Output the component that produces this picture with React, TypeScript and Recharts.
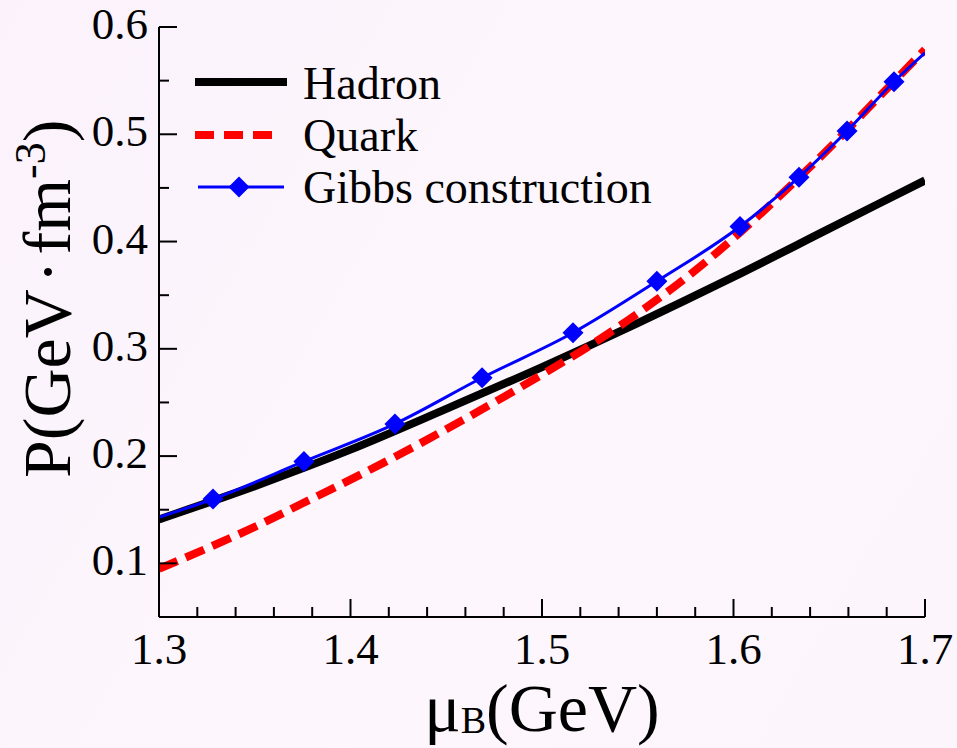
import React from 'react';
import { ComposedChart, Line, Scatter, XAxis, YAxis, Legend, Label } from 'recharts';

const xMajorTicks = [1.3, 1.4, 1.5, 1.6, 1.7];
const xMinorTicks = [1.32, 1.34, 1.36, 1.38, 1.42, 1.44, 1.46, 1.48, 1.52, 1.54, 1.56, 1.58, 1.62, 1.64, 1.66, 1.68];
const yMajorTicks = [0.1, 0.2, 0.3, 0.4, 0.5, 0.6];
const yMinorTicks = [0.15, 0.25, 0.35, 0.45, 0.55];

const hadronMu = [1.3, 1.35, 1.4, 1.45, 1.5, 1.55, 1.6, 1.65, 1.7];
const hadronP = [0.141, 0.172, 0.206, 0.244, 0.283, 0.324, 0.367, 0.412, 0.457];

const quarkMu = [1.3, 1.325, 1.35, 1.375, 1.4, 1.425, 1.45, 1.475, 1.5, 1.525, 1.55, 1.575, 1.6, 1.625, 1.65, 1.675, 1.7];
const quarkP = [0.095, 0.114, 0.134, 0.156, 0.178, 0.201, 0.225, 0.25, 0.276, 0.303, 0.333, 0.366, 0.403, 0.444, 0.487, 0.533, 0.579];

const gibbsMu = [1.3, 1.3282, 1.3757, 1.4232, 1.4687, 1.5162, 1.56, 1.6034, 1.6342, 1.6593, 1.6838, 1.7];
const gibbsP = [0.143, 0.16, 0.195, 0.23, 0.273, 0.315, 0.363, 0.414, 0.46, 0.503, 0.549, 0.576];

const markerMu = [1.3282, 1.3757, 1.4232, 1.4687, 1.5162, 1.56, 1.6034, 1.6342, 1.6593, 1.6838];
const markerP = [0.16, 0.195, 0.23, 0.273, 0.315, 0.363, 0.414, 0.46, 0.503, 0.549];

const seriesNames = ['Hadron', 'Quark', 'Gibbs construction'];

const toRows = (mu: number[], p: number[]) => mu.map((m, i) => ({ mu: m, p: p[i] }));
const hadronData = toRows(hadronMu, hadronP);
const quarkData = toRows(quarkMu, quarkP);
const gibbsData = toRows(gibbsMu, gibbsP);
const markerData = toRows(markerMu, markerP);

const xTicks = [...xMajorTicks, ...xMinorTicks].sort((a, b) => a - b);
const yTicks = [...yMajorTicks, ...yMinorTicks].sort((a, b) => a - b);

const FONT = "'Liberation Serif', 'Times New Roman', serif";

type Side = 'bottom' | 'top' | 'left' | 'right';

const makeTick = (side: Side, majors: number[], labels: boolean) => (props: any) => {
  const { x, y, payload } = props;
  const v = payload.value;
  const major = majors.includes(v);
  const len = major ? 18 : 10;
  let x2 = x;
  let y2 = y;
  if (side === 'bottom') y2 = y - len;
  if (side === 'top') y2 = y + len;
  if (side === 'left') x2 = x + len;
  if (side === 'right') x2 = x - len;
  let label = null;
  if (labels && major) {
    label =
      side === 'bottom' ? (
        <text x={x} y={y + 47} textAnchor="middle" fontSize={45} fontFamily={FONT} fill="#000">
          {v.toFixed(1)}
        </text>
      ) : (
        <text x={x - 11} y={y + 12} textAnchor="end" fontSize={45} fontFamily={FONT} fill="#000">
          {v.toFixed(1)}
        </text>
      );
  }
  return (
    <g>
      <line x1={x} y1={y} x2={x2} y2={y2} stroke="#000" strokeWidth={2} />
      {label}
    </g>
  );
};

const Diamond = (props: any) => {
  const { cx, cy } = props;
  const r = 10.5;
  return <polygon points={`${cx},${cy - r} ${cx + r},${cy} ${cx},${cy + r} ${cx - r},${cy}`} fill="#0000ff" />;
};

const XTitle = (props: any) => {
  const { viewBox } = props;
  const cx = viewBox.x + viewBox.width / 2;
  return (
    <text x={cx} y={viewBox.y + 114} textAnchor="middle" fontSize={68} fontFamily={FONT} fill="#000">
      <tspan>μ</tspan>
      <tspan fontSize={38} dy={2}>B</tspan>
      <tspan dy={-2}>(GeV)</tspan>
    </text>
  );
};

const YTitle = (props: any) => {
  const { viewBox } = props;
  const bx = viewBox.x + 70;
  const by = viewBox.y + 451;
  return (
    <text x={bx} y={by} transform={`rotate(-90, ${bx}, ${by})`} fontSize={68} fontFamily={FONT} fill="#000">
      <tspan>P(GeV</tspan>
      <tspan dx={6}>·</tspan>
      <tspan dx={6}>fm</tspan>
      <tspan fontSize={44} dy={-25}>-3</tspan>
      <tspan dy={25}>)</tspan>
    </text>
  );
};

const LegendBox = () => (
  <svg width={470} height={170} style={{ overflow: 'visible' }}>
    <line x1={5} y1={32} x2={97} y2={32} stroke="#000" strokeWidth={8} />
    <text x={113} y={49} fontSize={46} fontFamily={FONT} fill="#000">{seriesNames[0]}</text>
    <line x1={5} y1={85} x2={82} y2={85} stroke="#ff0000" strokeWidth={8} strokeDasharray="19 10" />
    <text x={113} y={101} fontSize={46} fontFamily={FONT} fill="#000">{seriesNames[1]}</text>
    <line x1={8} y1={137} x2={94} y2={137} stroke="#0000ff" strokeWidth={3} />
    <Diamond cx={49} cy={137} />
    <text x={113} y={153} fontSize={46} fontFamily={FONT} fill="#000">{seriesNames[2]}</text>
  </svg>
);

export default function App() {
  return (
    <div style={{ width: 957, height: 748, background: 'linear-gradient(120deg, #fbf2fb 0%, #fdf7fd 55%, #fcf5fc 100%)' }}>
      <style>{'body{margin:0}'}</style>
      <ComposedChart width={957} height={748} margin={{ top: 27, right: 32, left: 0, bottom: 0 }}>
        <XAxis
          xAxisId="b"
          dataKey="mu"
          type="number"
          domain={[1.3, 1.7]}
          ticks={xTicks}
          interval={0}
          tickSize={0}
          tickMargin={0}
          tickLine={false}
          axisLine={{ stroke: '#000', strokeWidth: 2 }}
          height={131}
          tick={makeTick('bottom', xMajorTicks, true)}
          allowDataOverflow
        >
          <Label content={XTitle} />
        </XAxis>
        <XAxis
          xAxisId="t"
          orientation="top"
          dataKey="mu"
          type="number"
          domain={[1.3, 1.7]}
          ticks={xTicks}
          interval={0}
          tickSize={0}
          tickMargin={0}
          tickLine={false}
          axisLine={{ stroke: '#000', strokeWidth: 2 }}
          height={0}
          tick={makeTick('top', xMajorTicks, false)}
          allowDataOverflow
        />
        <YAxis
          yAxisId="l"
          type="number"
          domain={[0.05, 0.6]}
          ticks={yTicks}
          interval={0}
          tickSize={0}
          tickMargin={0}
          tickLine={false}
          axisLine={{ stroke: '#000', strokeWidth: 2 }}
          width={159}
          tick={makeTick('left', yMajorTicks, true)}
          allowDataOverflow
        >
          <Label content={YTitle} />
        </YAxis>
        <YAxis
          yAxisId="r"
          orientation="right"
          type="number"
          domain={[0.05, 0.6]}
          ticks={yTicks}
          interval={0}
          tickSize={0}
          tickMargin={0}
          tickLine={false}
          axisLine={{ stroke: '#000', strokeWidth: 2 }}
          width={0}
          tick={makeTick('right', yMajorTicks, false)}
          allowDataOverflow
        />
        <Legend
          layout="horizontal"
          verticalAlign="middle"
          align="center"
          wrapperStyle={{ left: 190, top: 50, width: 470, height: 170 }}
          content={LegendBox}
        />
        <Line
          xAxisId="b"
          yAxisId="l"
          data={hadronData}
          dataKey="p"
          name={seriesNames[0]}
          type="monotone"
          stroke="#000"
          strokeWidth={8}
          dot={false}
          activeDot={false}
          isAnimationActive={false}
        />
        <Line
          xAxisId="b"
          yAxisId="l"
          data={quarkData}
          dataKey="p"
          name={seriesNames[1]}
          type="monotone"
          stroke="#ff0000"
          strokeWidth={8}
          strokeDasharray="20 9"
          dot={false}
          activeDot={false}
          isAnimationActive={false}
        />
        <Line
          xAxisId="b"
          yAxisId="l"
          data={gibbsData}
          dataKey="p"
          name={seriesNames[2]}
          type="monotone"
          stroke="#0000ff"
          strokeWidth={3}
          dot={false}
          activeDot={false}
          isAnimationActive={false}
        />
        <Scatter
          xAxisId="b"
          yAxisId="l"
          data={markerData}
          dataKey="p"
          legendType="none"
          shape={Diamond}
          isAnimationActive={false}
        />
      </ComposedChart>
    </div>
  );
}
